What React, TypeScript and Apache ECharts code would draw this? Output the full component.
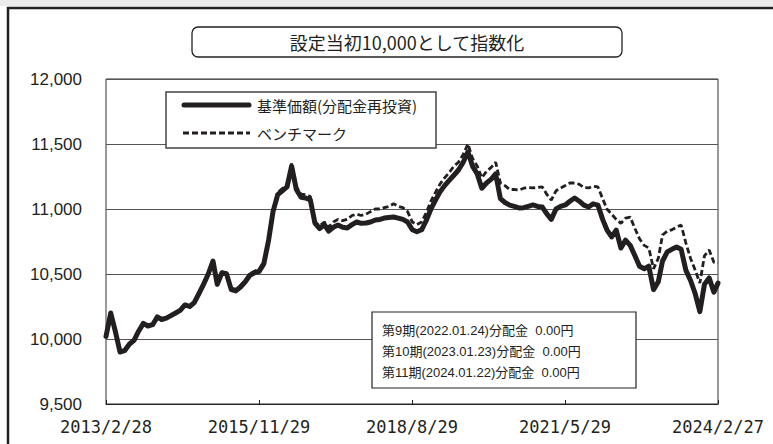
import React, { useEffect, useRef } from "react";
import * as echarts from "echarts";

// ---- data ----
const startDate = "2013-02-28";
const endDate = "2024-02-27";
const xTickLabels = ["2013/2/28", "2015/11/29", "2018/8/29", "2021/5/29", "2024/2/27"];
const yMin = 9500;
const yMax = 12000;
const yStep = 500;
const titleText = "設定当初10,000として指数化";
const seriesNames = ["基準価額(分配金再投資)", "ベンチマーク"];
const noteLines = [
  "第9期(2022.01.24)分配金\u00a0\u00a00.00円",
  "第10期(2023.01.23)分配金\u00a0\u00a00.00円",
  "第11期(2024.01.22)分配金\u00a0\u00a00.00円",
];

// month-end readings (start date, each month end, last date)
const fundValues = [
  10020, 10200, 10060, 9900, 9910, 9960, 9990, 10060, 10120, 10100,
  10110, 10170, 10150, 10160, 10180, 10200, 10220, 10262, 10250, 10280,
  10350, 10420, 10500, 10600, 10420, 10510, 10500, 10380, 10370, 10400,
  10440, 10490, 10510, 10520, 10580, 10760, 10980, 11110, 11140, 11170,
  11330, 11150, 11090, 11085, 11069, 10892, 10850, 10880, 10830, 10860,
  10877, 10860, 10854, 10880, 10900, 10890, 10892, 10900, 10915, 10920,
  10930, 10935, 10938, 10930, 10920, 10900, 10840, 10825, 10840, 10910,
  11000, 11070, 11130, 11180, 11220, 11260, 11300, 11360, 11440, 11330,
  11270, 11160, 11200, 11230, 11270, 11080, 11050, 11030, 11020, 11008,
  11010, 11020, 11031, 11020, 11015, 10960, 10920, 11000, 11020, 11031,
  11060, 11085, 11060, 11030, 11015, 11040, 11030, 10920, 10840, 10785,
  10838, 10700, 10760, 10720, 10640, 10560, 10540, 10560, 10380, 10440,
  10600, 10670, 10690, 10708, 10690, 10530, 10450, 10350, 10210, 10420,
  10470, 10360, 10430,
];

const benchValues = [
  10020, 10205, 10065, 9905, 9915, 9965, 9995, 10065, 10125, 10105,
  10115, 10175, 10155, 10165, 10185, 10205, 10225, 10268, 10256, 10286,
  10356, 10428, 10508, 10610, 10430, 10520, 10510, 10392, 10382, 10412,
  10452, 10502, 10522, 10534, 10594, 10776, 10996, 11126, 11158, 11190,
  11350, 11172, 11114, 11110, 11096, 10900, 10870, 10900, 10860, 10900,
  10920, 10910, 10920, 10950, 10960, 10950, 10960, 10980, 11000, 11000,
  11010, 11020, 11040, 11020, 11010, 10980, 10900, 10880, 10900, 10970,
  11060, 11130, 11190, 11240, 11280, 11330, 11360, 11420, 11500, 11390,
  11330, 11240, 11290, 11320, 11360, 11200, 11180, 11150, 11150, 11146,
  11160, 11165, 11162, 11165, 11170, 11110, 11069, 11140, 11160, 11180,
  11200, 11200, 11190, 11165, 11162, 11175, 11170, 11080, 11000, 10960,
  10920, 10890, 10930, 10938, 10850, 10770, 10720, 10700, 10540, 10620,
  10800, 10830, 10840, 10860, 10877, 10740, 10620, 10530, 10430, 10640,
  10685, 10590, 10585,
];

const DAY = 86400000;
const t0 = Date.parse(startDate + "T00:00:00Z");
const tEnd = Date.parse(endDate + "T00:00:00Z");
const totalDays = Math.round((tEnd - t0) / DAY);

function buildDays(n: number): number[] {
  const out: number[] = [0];
  for (let i = 1; i < n - 1; i++) {
    const t = Date.UTC(2013, 2 + i, 0);
    out.push(Math.round((t - t0) / DAY));
  }
  out.push(totalDays);
  return out;
}

const INK = "#231f20";

export default function App() {
  const ref = useRef<HTMLDivElement>(null);
  useEffect(() => {
    if (!ref.current) return;
    const chart = echarts.init(ref.current, undefined, { renderer: "svg" });
    const days = buildDays(fundValues.length);
    const fundData = days.map((d, i) => [d, fundValues[i]]);
    const benchData = days.map((d, i) => [d, benchValues[i]]);
    const xInterval = totalDays / (xTickLabels.length - 1);

    chart.setOption({
      animation: false,
      backgroundColor: "#ffffff",
      grid: {
        left: 106,
        right: 55,
        top: 79,
        bottom: 40,
        show: true,
        borderColor: "#333333",
        borderWidth: 1,
        backgroundColor: "#ffffff",
      },
      xAxis: {
        type: "value",
        min: 0,
        max: totalDays,
        interval: xInterval,
        axisLine: { show: true, lineStyle: { color: "#222222", width: 1 } },
        axisTick: { show: true, inside: true, length: 4, lineStyle: { color: "#222222" } },
        splitLine: { show: false },
        axisLabel: {
          margin: 14,
          fontFamily: "'DejaVu Sans Mono', monospace",
          fontSize: 17,
          color: INK,
          showMinLabel: true,
          showMaxLabel: true,
          formatter: (v: number) => xTickLabels[Math.round(v / xInterval)] ?? "",
        },
      },
      yAxis: {
        type: "value",
        min: yMin,
        max: yMax,
        interval: yStep,
        axisLine: { show: false },
        axisTick: { show: false },
        splitLine: { show: true, lineStyle: { color: "#555555", width: 1 } },
        axisLabel: {
          margin: 24,
          fontFamily: "'Liberation Sans', Arial, sans-serif",
          fontSize: 17,
          color: INK,
          formatter: (v: number) => v.toLocaleString("en-US"),
        },
      },
      series: [
        {
          name: seriesNames[1],
          type: "line",
          data: benchData,
          showSymbol: false,
          symbol: "none",
          lineStyle: { color: INK, width: 2.8, type: [6, 3] },
          z: 2,
        },
        {
          name: seriesNames[0],
          type: "line",
          data: fundData,
          showSymbol: false,
          symbol: "none",
          lineStyle: { color: INK, width: 5, join: "round", cap: "round" },
          z: 3,
        },
      ],
      graphic: [
        { type: "rect", z: 100, shape: { x: 0, y: 0, width: 773, height: 6 }, style: { fill: "#ececec" } },
        {
          type: "rect",
          z: 100,
          shape: { x: 8, y: 8, width: 800, height: 500 },
          style: { fill: "none", stroke: "#222222", lineWidth: 2.5 },
        },
        {
          type: "rect",
          z: 100,
          shape: { x: 192, y: 27, width: 430, height: 30, r: 6 },
          style: { fill: "#ffffff", stroke: "#222222", lineWidth: 1.3 },
        },
        {
          type: "text",
          z: 101,
          style: {
            text: titleText,
            x: 407,
            y: 42,
            textAlign: "center",
            textVerticalAlign: "middle",
            verticalAlign: "middle",
            font: "18px 'Noto Sans CJK JP', sans-serif",
            fill: INK,
          },
        },
        {
          type: "rect",
          z: 100,
          shape: { x: 166, y: 92, width: 270, height: 56 },
          style: { fill: "#ffffff", stroke: "#444444", lineWidth: 1.5 },
        },
        {
          type: "line",
          z: 101,
          shape: { x1: 184, y1: 105, x2: 249, y2: 105 },
          style: { stroke: INK, lineWidth: 5, lineCap: "round" },
        },
        {
          type: "line",
          z: 101,
          shape: { x1: 183, y1: 133, x2: 250, y2: 133 },
          style: { stroke: INK, lineWidth: 2.8, lineDash: [6, 3] },
        },
        {
          type: "text",
          z: 101,
          style: {
            text: seriesNames[0],
            x: 257,
            y: 105,
            textVerticalAlign: "middle",
            verticalAlign: "middle",
            font: "15px 'Noto Sans CJK JP', sans-serif",
            fill: INK,
          },
        },
        {
          type: "text",
          z: 101,
          style: {
            text: seriesNames[1],
            x: 257,
            y: 133,
            textVerticalAlign: "middle",
            verticalAlign: "middle",
            font: "15px 'Noto Sans CJK JP', sans-serif",
            fill: INK,
          },
        },
        {
          type: "rect",
          z: 100,
          shape: { x: 372, y: 312, width: 264, height: 76 },
          style: { fill: "#ffffff", stroke: "#222222", lineWidth: 1.2 },
        },
        ...noteLines.map((t, i) => ({
          type: "text",
          z: 101,
          style: {
            text: t,
            x: 382,
            y: 330 + i * 21,
            textVerticalAlign: "middle",
            verticalAlign: "middle",
            font: "13px 'Liberation Sans', 'Noto Sans CJK JP', sans-serif",
            fill: INK,
          },
        })),
      ],
    });
    return () => chart.dispose();
  }, []);

  return (
    <div
      ref={ref}
      style={{ position: "fixed", left: 0, top: 0, width: 773, height: 444, background: "#ffffff" }}
    />
  );
}
